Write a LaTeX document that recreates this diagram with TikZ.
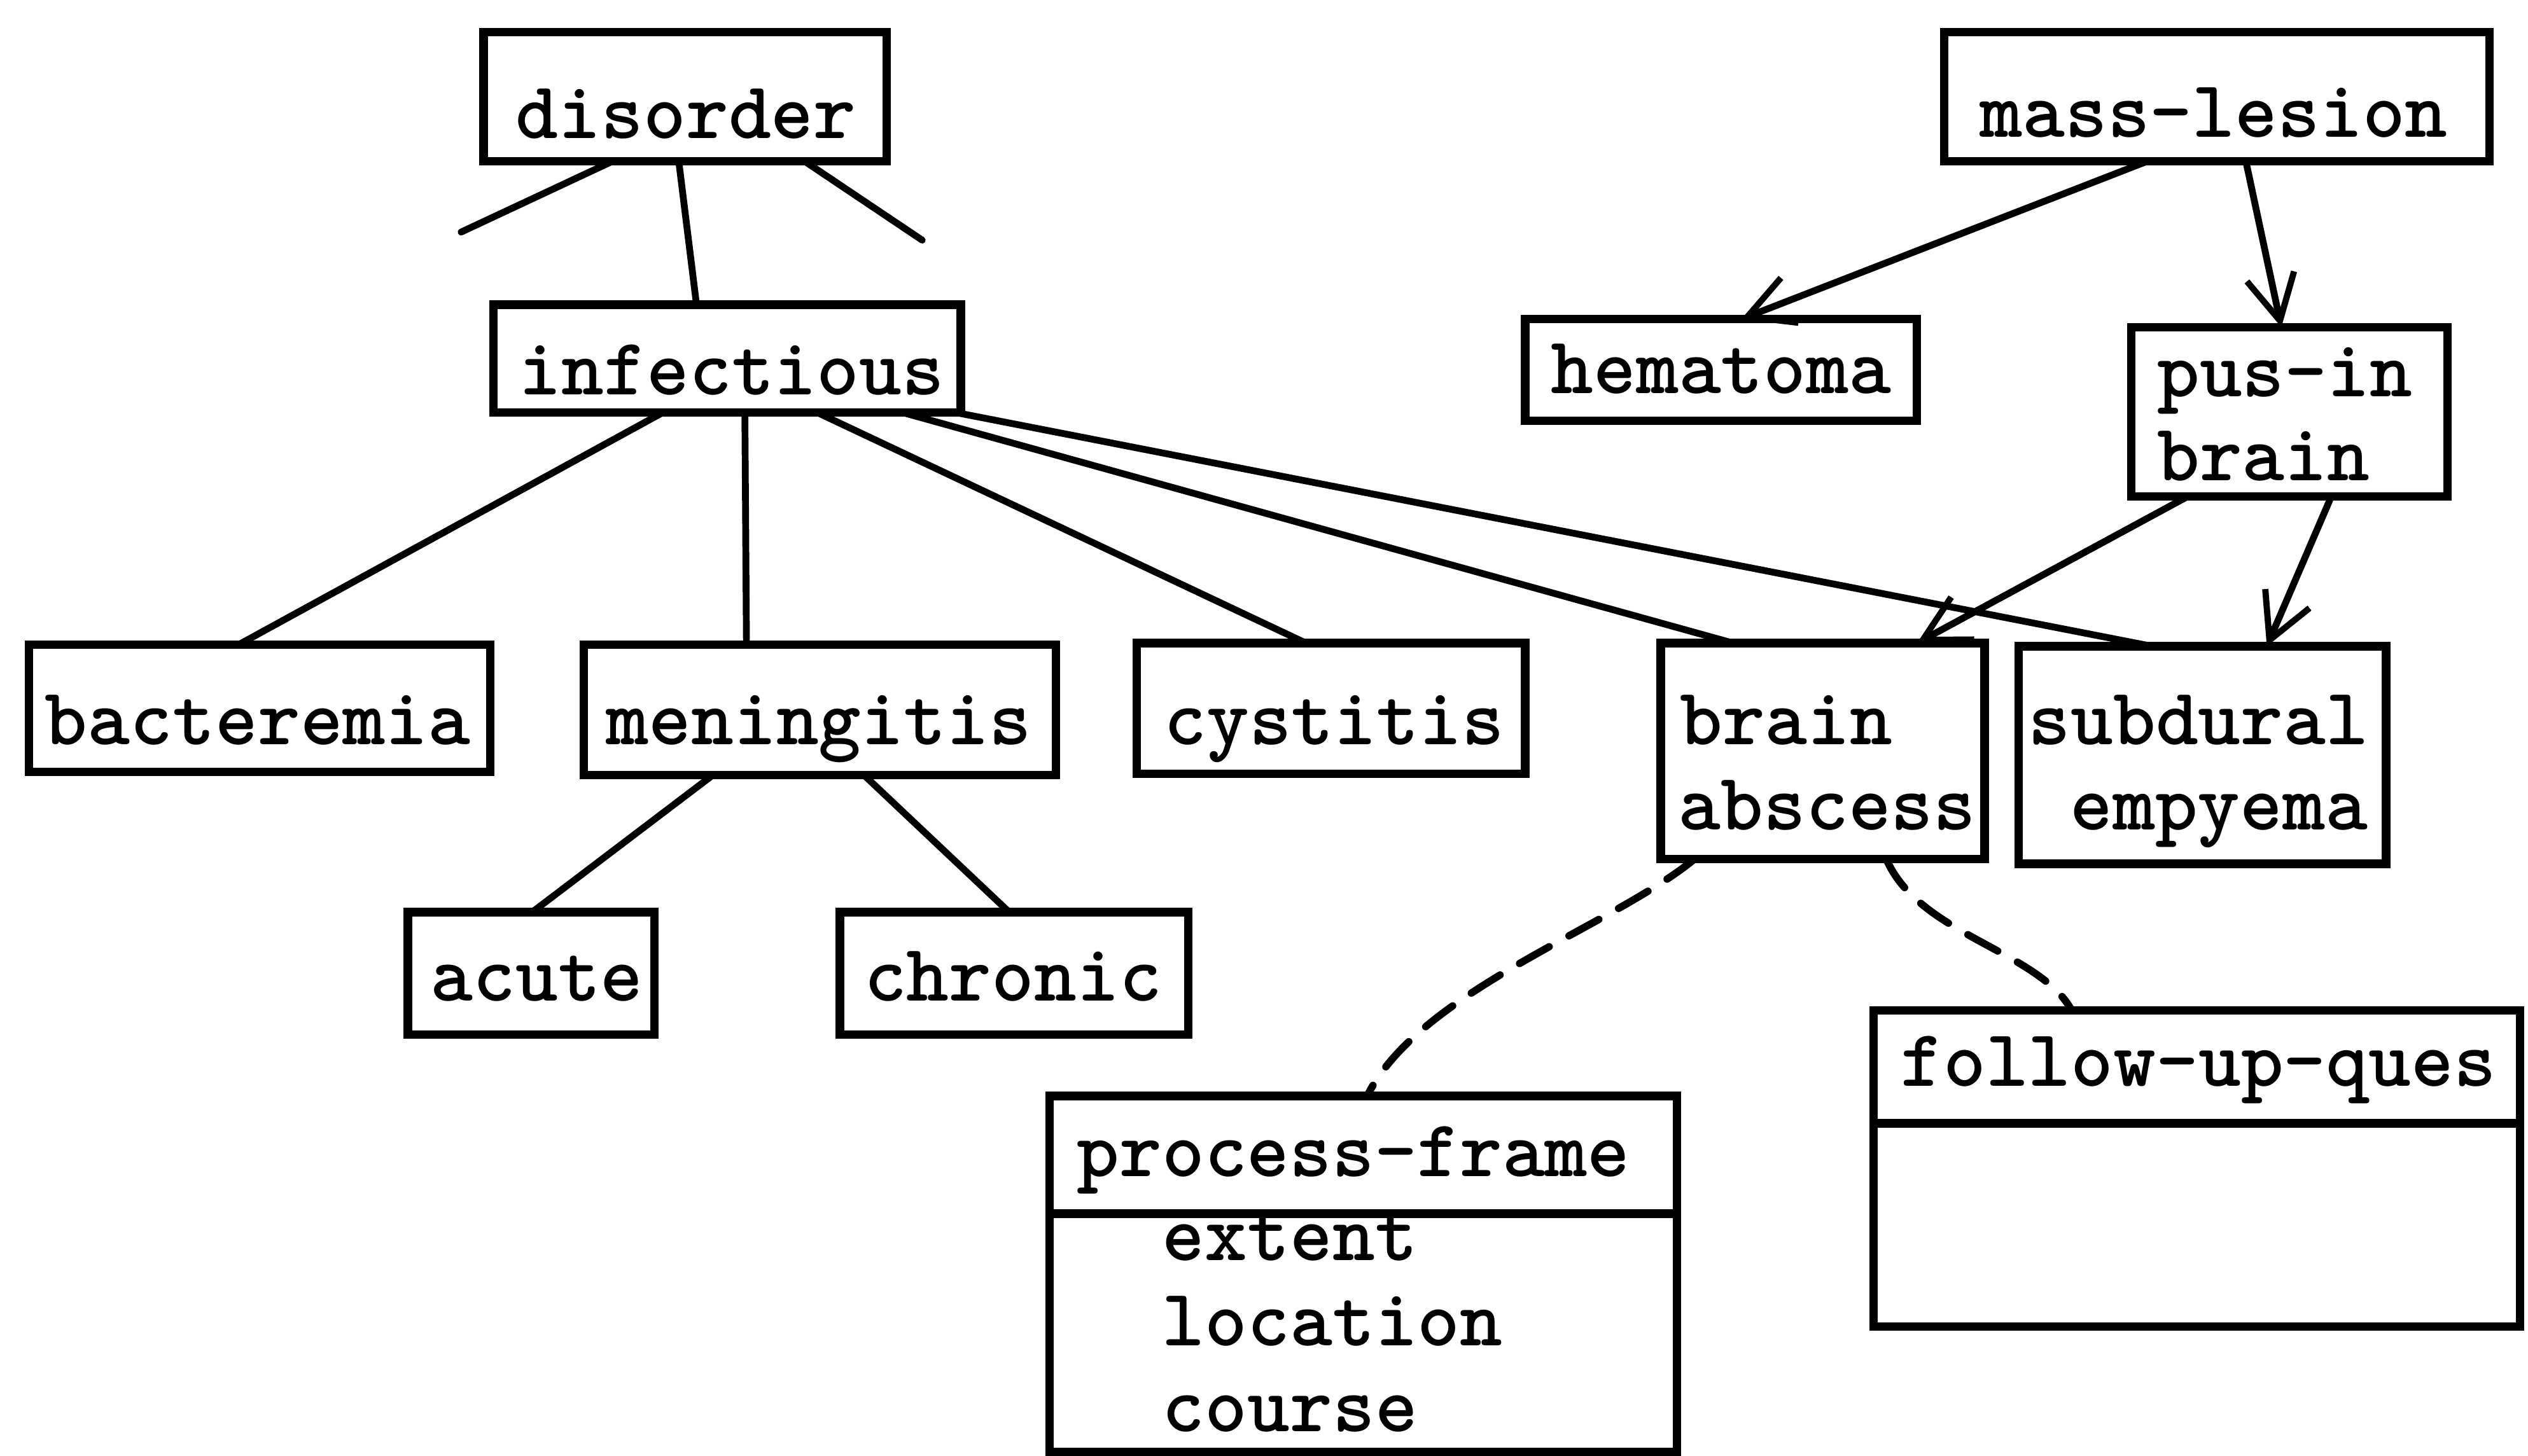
\documentclass[tikz,border=0pt]{standalone}
\usepackage{fontspec}
\usetikzlibrary{arrows.meta,fit}
\begin{document}
\begin{tikzpicture}[x=0.02cm, y=-0.02cm,
  box/.style={draw, line width=3pt, rectangle, inner sep=0pt, outer sep=0pt},
  rule/.style={line width=3pt},
  lbl/.style={anchor=base west, inner sep=0pt, outer sep=0pt,
    font=\ttfamily\bfseries\fontsize{28.6}{34}\selectfont},
  link/.style={line width=2.4pt, line cap=round},
  isa/.style={link, -{Straight Barb[length=16pt, width=17pt, line width=2.2pt]}},
  slot/.style={line width=2.6pt, dash pattern=on 12pt off 8pt, line cap=round}
]
\useasboundingbox (0,0) rectangle (1568,903);

% frames
\node[box, fit={(300,20) (550,100)}]   (disorder) {};
\node[box, fit={(306,189) (596,256)}]  (infectious) {};
\node[box, fit={(18,400) (304,479)}]   (bacteremia) {};
\node[box, fit={(362,400) (655,481)}]  (meningitis) {};
\node[box, fit={(705,399) (946,480)}]  (cystitis) {};
\node[box, fit={(253,566) (406,642)}]  (acute) {};
\node[box, fit={(521,566) (737,642)}]  (chronic) {};
\node[box, fit={(1206,20) (1544,100)}] (masslesion) {};
\node[box, fit={(946,198) (1189,261)}] (hematoma) {};
\node[box, fit={(1322,203) (1518,308)}] (pusin) {};
\node[box, fit={(1030,399) (1231,533)}] (brainabscess) {};
\node[box, fit={(1252,401) (1480,536)}] (subdural) {};
\node[box, fit={(651,680) (1040,901)}] (processframe) {};
\node[box, fit={(1162,627) (1563,823)}] (followup) {};

% header rules of the two slot frames
\draw[rule] (processframe.west |- 0,753) -- (processframe.east |- 0,753);
\draw[rule] (followup.west |- 0,697) -- (followup.east |- 0,697);

% labels
\node[lbl] (disorderT)    at (320,86)   {disorder};
\node[lbl] (infectiousT)  at (322,245)  {infectious};
\node[lbl] (bacteremiaT)  at (28,462)   {bacteremia};
\node[lbl] (meningitisT)  at (376,462)  {meningitis};
\node[lbl] (cystitisT)    at (722,462)  {cystitis};
\node[lbl] (acuteT)       at (267,621)  {acute};
\node[lbl] (chronicT)     at (536,621)  {chronic};
\node[lbl] (masslesionT)  at (1228,85)  {mass-lesion};
\node[lbl] (hematomaT)    at (962,244)  {hematoma};
\node[lbl] (pusinT)       at (1338,246) {pus-in};
\node[lbl] (pusinTb)      at (1338,298) {brain};
\node[lbl] (brainabscessT)  at (1042,462) {brain};
\node[lbl] (brainabscessTb) at (1041,515) {abscess};
\node[lbl] (subduralT)    at (1258,462) {subdural};
\node[lbl] (subduralTb)   at (1284,515) {empyema};
\node[lbl] (processframeT) at (668,730) {process-frame};
\node[lbl] (slotextent)   at (721,782)  {extent};
\node[lbl] (slotlocation) at (721,835)  {location};
\node[lbl] (slotcourse)   at (721,888)  {course};
\node[lbl] (followupT)    at (1179,674) {follow-up-ques};

% taxonomy links
\coordinate (stubL) at (286,144);
\coordinate (stubR) at (572,149);
\draw[link] (disorder.south -| 380,0) -- (stubL);
\draw[link] (disorder.south -| 499,0) -- (stubR);
\draw[link] (disorder.south -| 421,0) -- (infectious.north -| 432,0);
\draw[link] (infectious.south -| 411,0) -- (bacteremia.north -| 148,0);
\draw[link] (infectious.south -| 462,0) -- (meningitis.north -| 463,0);
\draw[link] (infectious.south -| 507,0) -- (cystitis.north -| 810,0);
\draw[link] (infectious.south -| 560,0) -- (brainabscess.north -| 1075,0);
\draw[link] (infectious.south -| 593,0) -- (subdural.north -| 1335,0);
\draw[link] (meningitis.south -| 442,0) -- (acute.north -| 330,0);
\draw[link] (meningitis.south -| 536,0) -- (chronic.north -| 626,0);

% directed links
\draw[isa] (masslesion.south -| 1332,0) -- (hematoma.north -| 1080,0);
\draw[isa] (masslesion.south -| 1393,0) -- (pusin.north -| 1415,0);
\draw[isa] (pusin.south -| 1357,0) -- (brainabscess.north -| 1189,0);
\draw[isa] (pusin.south -| 1446,0) -- (subdural.north -| 1406,0);

% slot links
\draw[slot] (brainabscess.south -| 1051,0) .. controls (1000,575) and (880,615) .. (processframe.north -| 848,0);
\draw[slot] (brainabscess.south -| 1170,0) .. controls (1190,580) and (1265,590) .. (followup.north -| 1285,0);
\end{tikzpicture}
\end{document}
